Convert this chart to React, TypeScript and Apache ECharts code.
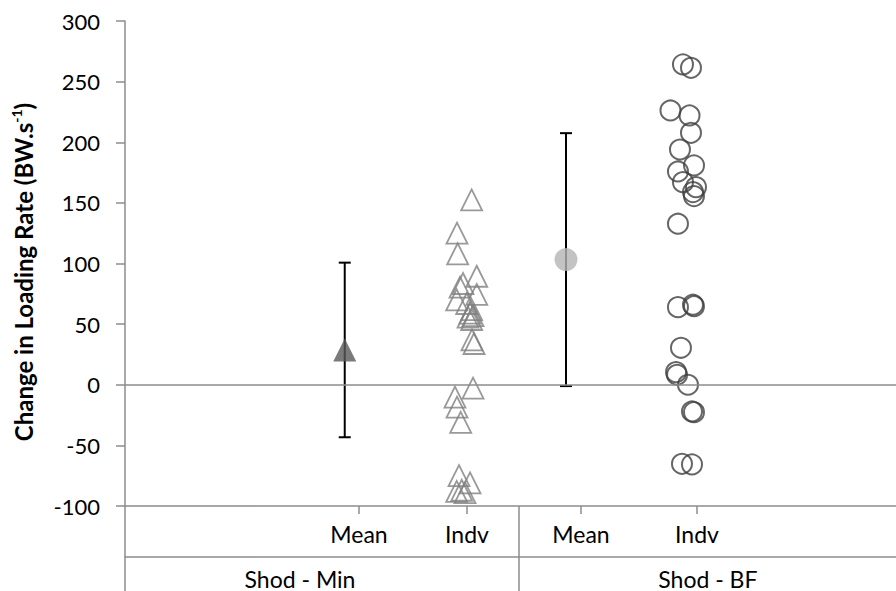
import React, { useEffect, useRef } from 'react';
import * as echarts from 'echarts';

// ---- axis settings ----
const yMin = -100;
const yMax = 300;
const yStep = 50;
const xMin = 0;
const xMax = 100;

// ---- category labels (x positions on the hidden 0..100 scale) ----
const subLabels = ['Mean', 'Indv', 'Mean', 'Indv'];
const subLabelPos = [30.35, 44.36, 59.14, 74.19];
const groupLabels = ['Shod - Min', 'Shod - BF'];
const groupLabelPos = [22.7, 75.6];
const groupBounds = [0, 51.1];

// ---- means and SD ----
const meanX = [28.5, 57.2];
const meanVal = [28.7, 103.2];
const meanSD = [72, 104.3];

// ---- individual values, Shod - Min ----
const minIndvX = [44.96, 43.06, 43.15, 45.62, 43.84, 43.45, 45.62, 43.02, 44.32, 44.96, 44.75, 45.14, 44.49, 44.96, 45.0, 45.27, 45.14, 42.8, 43.06, 43.54, 43.32, 44.75, 43.67, 43.02, 44.1];
const minIndvY = [152.4, 125, 108, 89.5, 83.5, 80.5, 74.5, 70, 67, 62, 59, 57, 55.8, 53.8, 37, 34, -2.8, -10.2, -18.5, -31, -75, -81, -87, -88, -89];

// ---- individual values, Shod - BF ----
const bfIndvX = [72.37, 73.41, 70.75, 73.22, 73.41, 71.98, 73.8, 71.72, 72.37, 74.06, 73.67, 73.8, 71.72, 71.72, 73.67, 73.8, 72.11, 71.47, 71.6, 73.02, 73.54, 73.8, 72.24, 73.54];
const bfIndvY = [264.2, 261.4, 226.2, 222.1, 207.8, 194, 180.9, 175.9, 167.1, 163, 158.9, 155.6, 132.8, 64, 66, 64.8, 30.5, 10.4, 8.2, 0, -22, -22.6, -65.2, -65.7];

const FONT = 'Lato';
const AXIS_GRAY = '#8c8c8c';

function buildOption() {
  const minIndv = minIndvX.map((x, i) => [x, minIndvY[i]]);
  const bfIndv = bfIndvX.map((x, i) => [x, bfIndvY[i]]);
  const errData = meanX.map((x, i) => [x, meanVal[i] - meanSD[i], meanVal[i] + meanSD[i]]);

  const nearestName = (v: number, pos: number[], names: string[]) => {
    let best = 0;
    pos.forEach((p, i) => { if (Math.abs(p - v) < Math.abs(pos[best] - v)) best = i; });
    return names[best];
  };

  return {
    animation: false,
    backgroundColor: '#ffffff',
    grid: { left: 125, right: 0, top: 21, bottom: 85, containLabel: false },
    graphic: [
      {
        type: 'text',
        x: 23,
        y: 272,
        rotation: Math.PI / 2,
        style: {
          text: '{b|Change in Loading Rate (BW.s}{s|-1}{b|)}',
          align: 'center',
          verticalAlign: 'middle',
          fill: '#000',
          rich: {
            b: { fontFamily: FONT, fontWeight: 'bold', fontSize: 24, lineHeight: 28, fill: '#000' },
            s: { fontFamily: FONT, fontWeight: 'bold', fontSize: 14, lineHeight: 28, verticalAlign: 'top', padding: [0, 0, 11, 0], fill: '#000' },
          },
        },
      },
    ],
    xAxis: [
      {
        type: 'value', min: xMin, max: xMax, position: 'bottom', offset: 0,
        axisLine: { show: true, onZero: false, lineStyle: { color: AXIS_GRAY, width: 1.5 } },
        axisTick: { show: true, customValues: subLabelPos, length: 8, lineStyle: { color: AXIS_GRAY, width: 1.5 } },
        axisLabel: {
          show: true, customValues: subLabelPos, margin: 16,
          fontFamily: FONT, fontSize: 23, color: '#000',
          formatter: (v: number) => nearestName(v, subLabelPos, subLabels),
        },
        splitLine: { show: false },
      },
      {
        type: 'value', min: xMin, max: xMax, position: 'bottom', offset: 51,
        axisLine: { show: true, onZero: false, lineStyle: { color: AXIS_GRAY, width: 1.5 } },
        axisTick: { show: true, customValues: groupBounds, length: 40, lineStyle: { color: AXIS_GRAY, width: 1.5 } },
        axisLabel: {
          show: true, customValues: groupLabelPos, margin: 10,
          fontFamily: FONT, fontSize: 23, color: '#000',
          formatter: (v: number) => nearestName(v, groupLabelPos, groupLabels),
        },
        splitLine: { show: false },
      },
      {
        type: 'value', min: xMin, max: xMax, position: 'bottom', offset: 0,
        axisLine: { show: false, onZero: false },
        axisTick: { show: true, customValues: groupBounds, length: 51, lineStyle: { color: AXIS_GRAY, width: 1.5 } },
        axisLabel: { show: false },
        splitLine: { show: false },
      },
    ],
    yAxis: {
      type: 'value', min: yMin, max: yMax, interval: yStep,
      axisLine: { show: true, onZero: false, lineStyle: { color: AXIS_GRAY, width: 1.5 } },
      axisTick: { show: true, length: 9, lineStyle: { color: AXIS_GRAY, width: 1.5 } },
      axisLabel: { margin: 25, fontFamily: FONT, fontSize: 22, color: '#000' },
      splitLine: { show: false },
    },
    series: [
      {
        type: 'custom',
        xAxisIndex: 0,
        data: errData,
        encode: { x: 0, y: [1, 2] },
        z: 2,
        renderItem: (params: any, api: any) => {
          const x = api.value(0);
          const lo = api.coord([x, api.value(1)]);
          const hi = api.coord([x, api.value(2)]);
          const cap = 6;
          const style = { stroke: '#000', lineWidth: 2 };
          return {
            type: 'group',
            children: [
              { type: 'line', shape: { x1: lo[0], y1: lo[1], x2: hi[0], y2: hi[1] }, style },
              { type: 'line', shape: { x1: hi[0] - cap, y1: hi[1], x2: hi[0] + cap, y2: hi[1] }, style },
              { type: 'line', shape: { x1: lo[0] - cap, y1: lo[1], x2: lo[0] + cap, y2: lo[1] }, style },
            ],
          };
        },
        markLine: {
          silent: true, symbol: 'none', label: { show: false },
          lineStyle: { color: AXIS_GRAY, width: 1.5, type: 'solid' },
          data: [{ yAxis: 0 }],
        },
      },
      {
        type: 'scatter', xAxisIndex: 0, z: 3,
        data: [[meanX[0], meanVal[0]]],
        symbol: 'triangle', symbolSize: 23,
        itemStyle: { color: '#595959' },
      },
      {
        type: 'scatter', xAxisIndex: 0, z: 3,
        data: [[meanX[1], meanVal[1]]],
        symbol: 'circle', symbolSize: 23,
        itemStyle: { color: '#b4b4b4' },
      },
      {
        type: 'scatter', xAxisIndex: 0, z: 4,
        data: minIndv,
        symbol: 'triangle', symbolSize: 21,
        itemStyle: { color: 'rgba(255,255,255,0)', borderColor: '#808080', borderWidth: 1.8 },
      },
      {
        type: 'scatter', xAxisIndex: 0, z: 4,
        data: bfIndv,
        symbol: 'circle', symbolSize: 20,
        itemStyle: { color: 'rgba(255,255,255,0)', borderColor: '#404040', borderWidth: 2 },
      },
    ],
  };
}

export default function App() {
  const ref = useRef<HTMLDivElement>(null);
  useEffect(() => {
    if (!ref.current) return;
    const chart = echarts.init(ref.current, null, { renderer: 'svg' });
    chart.setOption(buildOption() as any);
    return () => chart.dispose();
  }, []);
  return <div ref={ref} style={{ position: 'fixed', left: 0, top: 0, width: 896, height: 591, background: '#fff' }} />;
}
